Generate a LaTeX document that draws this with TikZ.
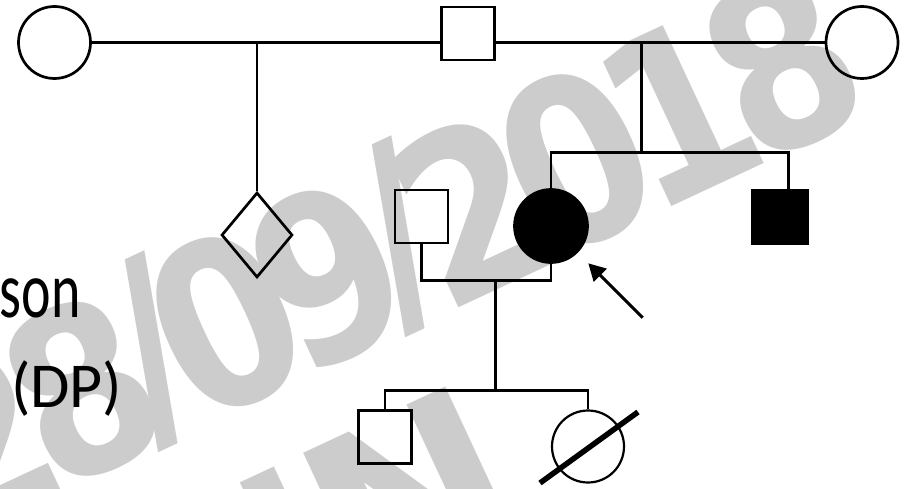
\documentclass[tikz,border=0pt]{standalone}
\usepackage{fontspec}
\usepackage{graphicx}
\usetikzlibrary{shapes.geometric,arrows.meta}
\newfontfamily\carlito{Carlito}
\newfontfamily\wmfont{DejaVu Sans Bold}
\definecolor{wm}{RGB}{204,204,204}
\begin{document}
\begin{tikzpicture}[x=1pt,y=-1pt,
  ln/.style={line width=2.7pt},
  fem/.style={circle, draw, line width=2.7pt, minimum size=72pt, inner sep=0pt},
  mal/.style={rectangle, draw, line width=2.7pt, minimum width=53pt, minimum height=53pt, inner sep=0pt},
  unk/.style={diamond, draw, line width=2.7pt, minimum width=71pt, minimum height=85pt, inner sep=0pt},
  wmg/.style={text=wm, font=\wmfont\fontsize{50}{60}\selectfont, inner sep=0pt, outer sep=0pt, transform shape, xscale=4, yscale=4.6, anchor=center},
  wml/.style={wmg, anchor=north west},
  lbl/.style={inner sep=0pt, outer sep=0pt, text=black}
]
\useasboundingbox (0,0) rectangle (910,489);
\clip (0,0) rectangle (910,489);

% watermark
\begin{scope}[shift={(82,389)}, rotate=25]
  \coordinate (o0) at (-114,0);
  \coordinate (o1) at (0,0);
  \coordinate (o2) at (79,-4);
  \coordinate (o3) at (158,0);
  \coordinate (o4) at (272,0);
  \coordinate (o5) at (351,-4);
  \coordinate (o6) at (430,0);
  \coordinate (o7) at (544,0);
  \coordinate (o8) at (658,0);
  \coordinate (o9) at (772,0);
  \coordinate (p1) at (85,152);
  \coordinate (p2) at (152,152);
  \node[wmg] (w0) at (o0) {2};
  \node[wmg] (w1) at (o1) {8};
  \node[wmg] (w2) at (o2) {/};
  \node[wmg] (w3) at (o3) {0};
  \node[wmg] (w4) at (o4) {9};
  \node[wmg] (w5) at (o5) {/};
  \node[wmg] (w6) at (o6) {2};
  \node[wmg] (w7) at (o7) {0};
  \node[wmg] (w8) at (o8) {1};
  \node[wmg] (w9) at (o9) {8};
  \node[wml] (v1) at (p1) {I};
  \node[wml, xscale=1.2] (v2) at (p2) {N};
\end{scope}

% side texts
\node[lbl, anchor=base east, font=\carlito\fontsize{80}{90}\selectfont] (t1) at (80.5,317) {\scalebox{0.7}[1]{son}};
\node[lbl, anchor=base west, font=\carlito\fontsize{64}{72}\selectfont] (t2) at (11,407) {(DP)};

% pedigree nodes
\node[fem] (gm1) at (54.5,42.5) {};
\node[mal] (gf) at (468,33.5) {};
\node[fem] (gm2) at (862,42.5) {};
\node[unk] (dia) at (257,235) {};
\node[fem, fill=black, minimum size=73pt] (pro) at (551,226) {};
\node[mal, fill=black, minimum width=55pt] (bro) at (780,217) {};
\node[mal] (sp) at (421.5,216.5) {};
\node[mal] (son1) at (385,437) {};
\node[fem, line width=2.2pt] (dau) at (588,446.5) {};

\coordinate (j1) at (257,42.5);
\coordinate (j2) at (641.7,42.5);
\coordinate (s2) at (641.7,152.7);
\coordinate (bt) at (788.3,189);
\coordinate (mj) at (495.7,280.7);
\coordinate (cs) at (495.7,390.5);
\coordinate (dl1) at (540,483);
\coordinate (dl2) at (638,412);
\coordinate (aS) at (642.7,317.7);
\coordinate (aE) at (588.3,263.3);

% connectors
\draw[ln] (gm1.east) -- (gm1.east -| gf.west);
\draw[ln] (gf.east |- gm2.west) -- (gm2.west);
\draw[ln] (j1) -- (dia.north);
\draw[ln] (j2) -- (s2);
\draw[ln] (pro.north) |- (bt |- s2) -- (bt);
\draw[ln] (sp.south) |- (mj) -| (pro.south);
\draw[ln] (mj) -- (cs);
\draw[ln] (son1.north) |- (cs) -| (dau.north);
\draw[line width=5.5pt] (dl1) -- (dl2);
\draw[line width=3pt, -{Triangle[length=17pt,width=18pt]}] (aS) -- (aE);
\end{tikzpicture}
\end{document}
